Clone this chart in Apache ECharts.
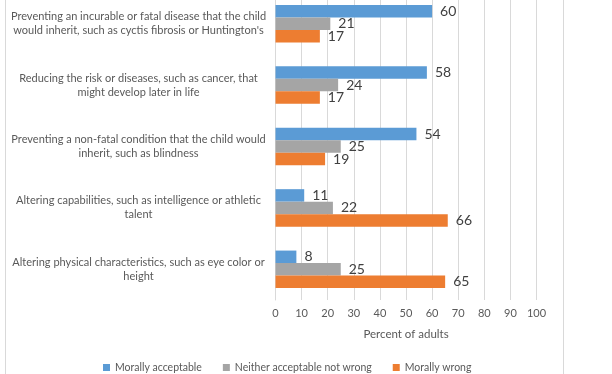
<!DOCTYPE html>
<html><head><meta charset="utf-8">
<script src="https://cdn.jsdelivr.net/npm/echarts@6/dist/echarts.min.js"></script>
<style>html,body{margin:0;padding:0;background:#fff;overflow:hidden}#wrap{position:relative;width:612px;height:374px;overflow:hidden}#c{position:absolute;left:0;top:-7px;width:612px;height:381px}</style>
</head><body><div id="wrap"><div id="c"></div></div>
<script>
const categories = [
  "Preventing an incurable or fatal disease that the child\nwould inherit, such as cyctis fibrosis or Huntington's",
  "Reducing the risk or diseases, such as cancer, that\nmight develop later in life",
  "Preventing a non-fatal condition that the child would\ninherit, such as blindness",
  "Altering capabilities, such as intelligence or athletic\ntalent",
  "Altering physical characteristics, such as eye color or\nheight"
];
const seriesNames = ["Morally acceptable", "Neither acceptable not wrong", "Morally wrong"];
const acceptable = [60, 58, 54, 11, 8];
const neither = [21, 24, 25, 22, 25];
const wrong = [17, 17, 19, 66, 65];
const colors = ["#5b9bd5", "#a5a5a5", "#ed7d31"];
const FONT = "Lato";

const chart = echarts.init(document.getElementById('c'), null, {renderer: 'canvas'});
const mk = (name, data, color) => ({
  name, type: 'bar', data, barGap: '0%', barCategoryGap: '39%',
  itemStyle: {color},
  label: {show: true, position: 'right', distance: 8, color: '#404040', fontSize: 14, fontFamily: FONT},
  animation: false
});
chart.setOption({
  animation: false,
  textStyle: {fontFamily: FONT},
  graphic: [{type: 'rect', shape: {x: 5.5, y: -5, width: 558, height: 400}, style: {fill: 'none', stroke: '#d9d9d9', lineWidth: 1}, silent: true, z: -10}],
  legend: {
    left: 98, top: 364, itemWidth: 7, itemHeight: 7, itemGap: 21,
    icon: 'rect', textStyle: {color: '#595959', fontSize: 10.5, fontFamily: FONT},
    data: seriesNames
  },
  grid: {left: 275.5, right: 75.5, top: 0, bottom: 74, containLabel: false},
  xAxis: {
    type: 'value', min: 0, max: 100, interval: 10,
    name: 'Percent of adults', nameLocation: 'middle', nameGap: 28,
    nameTextStyle: {color: '#595959', fontSize: 11.5, fontFamily: FONT},
    axisLabel: {color: '#595959', fontSize: 11, fontFamily: FONT, margin: 8},
    splitLine: {lineStyle: {color: '#d9d9d9'}},
    axisLine: {show: false}, axisTick: {show: false}
  },
  yAxis: {
    type: 'category', data: categories, inverse: true,
    axisLine: {show: true, lineStyle: {color: '#d9d9d9'}}, axisTick: {show: false},
    axisLabel: {color: '#595959', fontSize: 11, fontFamily: FONT, align: 'center', margin: 137, lineHeight: 14}
  },
  series: [mk(seriesNames[0], acceptable, colors[0]), mk(seriesNames[1], neither, colors[1]), mk(seriesNames[2], wrong, colors[2])]
});
</script></body></html>
